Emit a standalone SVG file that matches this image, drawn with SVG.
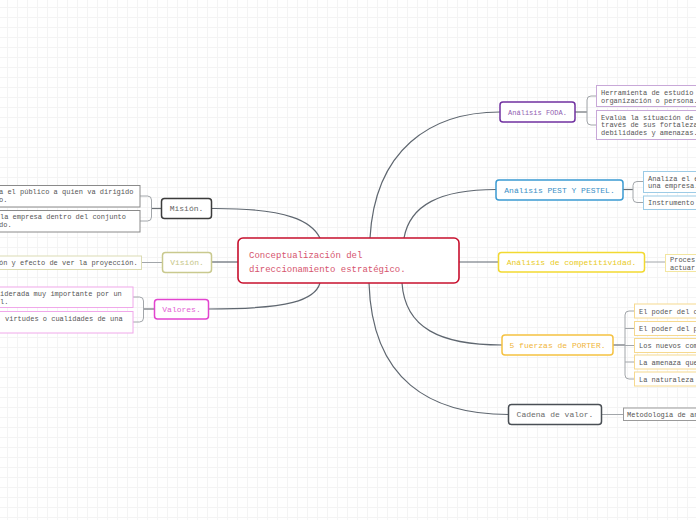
<svg xmlns="http://www.w3.org/2000/svg" width="696" height="520" viewBox="0 0 696 520">
<defs>
<pattern id="grid" x="7" y="7" width="10" height="10" patternUnits="userSpaceOnUse">
<path d="M0,0.5 H10 M0.5,0 V10" fill="none" stroke="#f4f4f4" stroke-width="1"/>
</pattern>
</defs>
<style>
text{font-family:"Liberation Mono","DejaVu Sans Mono",monospace;}
.main{fill:#fff;stroke-width:1.5;}
.sub{fill:#fff;stroke-width:1;}
.pt{font-size:8px;text-anchor:middle;}
.ct{font-size:7px;fill:#555;}
.con{fill:none;stroke:#5f6770;stroke-width:1.2;}
.stub{fill:none;stroke:#6a6f75;stroke-width:1.2;}
.br{fill:none;stroke:#a2a6aa;stroke-width:1;}
</style>
<rect width="696" height="520" fill="#fff"/>
<rect width="696" height="520" fill="url(#grid)"/>

<g id="connectors">
<path class="con" d="M370,238 C375,150 430,112 500,112"/>
<path class="con" d="M404,238 C410,205 440,189.5 496,189.5"/>
<path class="con" d="M459,262 H498.5"/>
<path class="con" d="M402,283 C405,328 440,345 502,345"/>
<path class="con" d="M369,283 C372,380 430,414.5 508.5,414.5"/>
<path class="con" d="M211.5,208.5 C290,208 312,222 320,238"/>
<path class="con" d="M238,262 H211.5"/>
<path class="con" d="M208.5,309 C290,309 315,300 320,283"/>
<path class="stub" d="M575,112 H587"/>
<path class="br" d="M596.5,96 H591 Q587,96 587,100 V121 Q587,125 591,125 H596.5"/>
<path class="stub" d="M623,189.5 H633"/>
<path class="br" d="M643.5,181.5 H637 Q633,181.5 633,185.5 V198.5 Q633,202.5 637,202.5 H643.5"/>
<path class="br" d="M644.5,262 H665.5"/>
<path class="stub" d="M613,345 H625" stroke-width="1.5"/>
<path class="br" d="M634.5,311 H629 Q625,311 625,315 V375 Q625,379 629,379 H634.5 M625,328.5 H634.5 M625,345.5 H634.5 M625,362 H634.5"/>
<path class="br" d="M601.5,414.5 H623.5"/>
<path class="stub" d="M161.5,208.5 H151.5"/>
<path class="br" d="M140,196 H147.5 Q151.5,196 151.5,200 V217 Q151.5,221 147.5,221 H140"/>
<path class="br" d="M162.5,262.5 H141.5"/>
<path class="stub" d="M154.5,309 H143.5"/>
<path class="br" d="M133,297 H139.5 Q143.5,297 143.5,301 V318 Q143.5,322 139.5,322 H133"/>
</g>

<g id="center">
<rect x="238" y="238" width="221" height="45" rx="5" fill="#fff" stroke="#c8102e" stroke-width="1.6"/>
<text x="249" y="257.5" font-size="9" fill="#d6546e">Conceptualización del</text>
<text x="249" y="271.5" font-size="9" fill="#d6546e">direccionamiento estratégico.</text>
</g>

<g id="foda">
<rect class="main" x="500" y="102" width="75" height="20" rx="3" stroke="#7030a0"/>
<text x="537.5" y="114.5" font-size="7" text-anchor="middle" fill="#9060b0">Análisis FODA.</text>
</g>
<g id="foda-1">
<rect class="sub" x="596.5" y="85.5" width="110" height="21" stroke="#c8a8d8"/>
<text class="ct" x="601" y="95.2">Herramienta de estudio</text>
<text class="ct" x="601" y="102.7">organización o persona.</text>
</g>
<g id="foda-2">
<rect class="sub" x="596.5" y="110.5" width="110" height="29" stroke="#c8a8d8"/>
<text class="ct" x="601" y="119.8">Evalúa la situación de</text>
<text class="ct" x="601" y="127.3">través de sus fortaleza</text>
<text class="ct" x="601" y="134.8">debilidades y amenazas.</text>
</g>

<g id="pest">
<rect class="main" x="496" y="180" width="127" height="20" rx="3" stroke="#3b9bd2"/>
<text class="pt" x="559.5" y="192.8" fill="#3a8fc6">Análisis PEST Y PESTEL.</text>
</g>
<g id="pest-1">
<rect class="sub" x="643.5" y="171.5" width="60" height="21" stroke="#9ccbe6"/>
<text class="ct" x="648" y="180.5">Analiza el e</text>
<text class="ct" x="648" y="188">una empresa.</text>
</g>
<g id="pest-2">
<rect class="sub" x="643.5" y="196" width="60" height="13.5" stroke="#9ccbe6"/>
<text class="ct" x="648" y="205">Instrumento</text>
</g>

<g id="competitividad">
<rect class="main" x="498.5" y="252.5" width="146" height="19.5" rx="3" stroke="#f2d930"/>
<text class="pt" x="571.5" y="264.8" fill="#e8ca1c">Análisis de competitividad.</text>
</g>
<g id="competitividad-1">
<rect class="sub" x="665.5" y="254.5" width="40" height="17" stroke="#f3e6a0"/>
<text class="ct" x="670" y="261.5">Proces</text>
<text class="ct" x="670" y="269.5">actuar</text>
</g>

<g id="porter">
<rect class="main" x="502" y="335" width="111" height="20" rx="3" stroke="#f5c242"/>
<text class="pt" x="557.5" y="347.5" fill="#f0b53a">5 fuerzas de PORTER.</text>
</g>
<g id="porter-1"><rect class="sub" x="634.5" y="304" width="70" height="14" stroke="#f6d98f"/><text class="ct" x="639" y="313.5">El poder del c</text></g>
<g id="porter-2"><rect class="sub" x="634.5" y="321.5" width="70" height="14" stroke="#f6d98f"/><text class="ct" x="639" y="331">El poder del p</text></g>
<g id="porter-3"><rect class="sub" x="634.5" y="338.5" width="70" height="14" stroke="#f6d98f"/><text class="ct" x="639" y="348">Los nuevos com</text></g>
<g id="porter-4"><rect class="sub" x="634.5" y="355" width="70" height="14" stroke="#f6d98f"/><text class="ct" x="639" y="364.5">La amenaza que</text></g>
<g id="porter-5"><rect class="sub" x="634.5" y="372" width="70" height="14" stroke="#f6d98f"/><text class="ct" x="639" y="381.5">La naturaleza</text></g>

<g id="cadena">
<rect class="main" x="508.5" y="404.5" width="93" height="20" rx="3" stroke="#4a4f55"/>
<text class="pt" x="555" y="417.2" fill="#6a6a6a">Cadena de valor.</text>
</g>
<g id="cadena-1">
<rect class="sub" x="623.5" y="408" width="80" height="12.5" stroke="#9a9a9a"/>
<text class="ct" x="627" y="416.8">Metodología de an</text>
</g>

<g id="mision">
<rect class="main" x="161.5" y="198.5" width="50" height="20" rx="3" stroke="#3c3c3c"/>
<text class="pt" x="186.5" y="211.2" fill="#666">Misión.</text>
</g>
<g id="mision-1">
<rect class="sub" x="-10" y="185.5" width="150" height="21.5" stroke="#8a8a8a"/>
<text class="ct" x="-1" y="194">a el público a quien va dirigido</text>
<text class="ct" x="-1" y="202">o.</text>
</g>
<g id="mision-2">
<rect class="sub" x="-10" y="210.5" width="150" height="21.5" stroke="#8a8a8a"/>
<text class="ct" x="0" y="218.5">la empresa dentro del conjunto</text>
<text class="ct" x="-1" y="226.5">do.</text>
</g>

<g id="vision">
<rect class="main" x="162.5" y="252.5" width="49" height="20" rx="3" stroke="#c9c98e"/>
<text class="pt" x="187" y="265.2" fill="#c6c688">Visión.</text>
</g>
<g id="vision-1">
<rect class="sub" x="-10" y="256" width="151.5" height="13.5" stroke="#dcdcb4"/>
<text class="ct" x="-1" y="265.2">ón y efecto de ver la proyección.</text>
</g>

<g id="valores">
<rect class="main" x="154.5" y="299.5" width="54" height="19.5" rx="3" stroke="#e244cf"/>
<text class="pt" x="181.5" y="311.8" fill="#e45fd4">Valores.</text>
</g>
<g id="valores-1">
<rect class="sub" x="-10" y="287" width="143" height="20.5" stroke="#f0a8ea"/>
<text class="ct" x="0" y="296">iderada muy importante por un</text>
<text class="ct" x="0" y="303.5">l.</text>
</g>
<g id="valores-2">
<rect class="sub" x="-10" y="311.5" width="143" height="21.5" stroke="#f0a8ea"/>
<text class="ct" x="5" y="320.5">virtudes o cualidades de una</text>
</g>
</svg>
